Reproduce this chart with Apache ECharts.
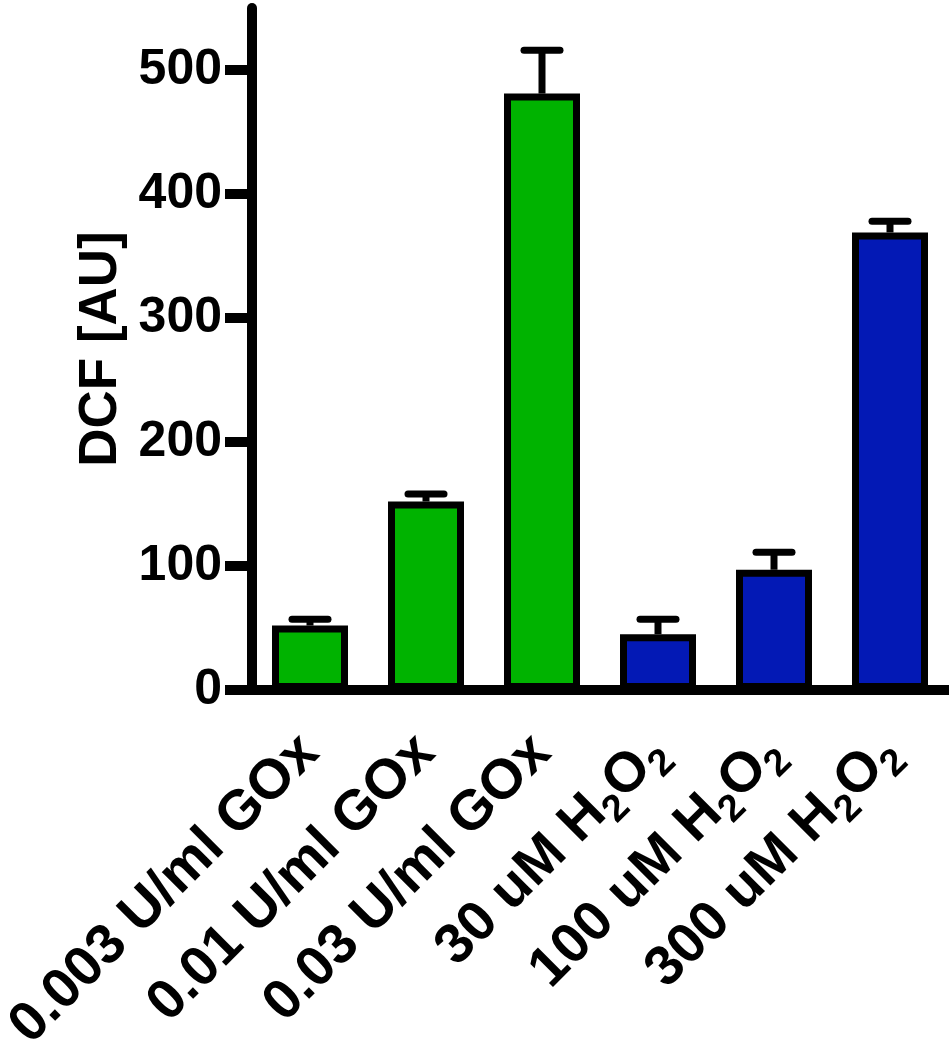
<!DOCTYPE html>
<html>
<head>
<meta charset="utf-8">
<script src="https://cdn.jsdelivr.net/npm/echarts@6/dist/echarts.min.js"></script>
<style>
html,body{margin:0;padding:0;background:#fff;}
#chart{width:949px;height:1050px;}
</style>
</head>
<body>
<div id="chart"></div>
<script>
// ---- data ----
const categories = ['0.003 U/ml GOx', '0.01 U/ml GOx', '0.03 U/ml GOx', '30 uM H2O2', '100 uM H2O2', '300 uM H2O2'];
const groups = ['GOx', 'GOx', 'GOx', 'H2O2', 'H2O2', 'H2O2'];
const means = [52, 152, 481, 45, 97, 369];
const errors = [5, 6, 35, 12, 14, 9];
const yTicks = [0, 100, 200, 300, 400, 500];
const yTitle = 'DCF [AU]';

// ---- style ----
const groupColors = { GOx: '#00B300', H2O2: '#0319B5' };
const FONT = '"Liberation Sans", Arial, Helvetica, sans-serif';

const chart = echarts.init(document.getElementById('chart'), null, { renderer: 'canvas' });

function fmtCat(v) {
  // turn "H2O2" into rich text with subscripts
  return v.replace(/H2O2/, 'H{sub|2}O{sub|2}');
}

const barData = means.map((m, i) => ({
  value: m,
  itemStyle: { color: groupColors[groups[i]] }
}));
const errData = means.map((m, i) => [i, m, m + errors[i]]);

const option = {
  animation: false,
  backgroundColor: '#fff',
  grid: { left: 252, right: 1, top: 8, bottom: 360, containLabel: false, outerBoundsMode: 'none' },
  xAxis: {
    type: 'category',
    data: categories,
    axisLine: { lineStyle: { color: '#000', width: 10 } },
    axisTick: { alignWithLabel: true, length: 27, lineStyle: { color: '#000', width: 10 } },
    axisLabel: {
      rotate: 45,
      margin: 54,
      color: '#000',
      fontFamily: FONT,
      fontWeight: 'bold',
      fontSize: 56,
      interval: 0,
      hideOverlap: false,
      formatter: fmtCat,
      rich: {
        sub: { fontFamily: FONT, fontWeight: 'bold', fontSize: 38, color: '#000', verticalAlign: 'bottom', lineHeight: 38 }
      },
      lineHeight: 72
    }
  },
  yAxis: {
    type: 'value',
    min: 0,
    max: 550,
    interval: 100,
    name: yTitle,
    nameLocation: 'middle',
    nameGap: 114,
    nameTextStyle: { color: '#000', fontFamily: FONT, fontWeight: 'bold', fontSize: 53 },
    axisLine: { show: true, lineStyle: { color: '#000', width: 10 } },
    axisTick: { show: true, length: 27, lineStyle: { color: '#000', width: 10 } },
    axisLabel: {
      margin: 30,
      color: '#000',
      fontFamily: FONT,
      fontWeight: 'bold',
      fontSize: 50,
      showMaxLabel: false,
      formatter: function (v) { return yTicks.indexOf(v) >= 0 ? String(v) : ''; }
    },
    splitLine: { show: false }
  },
  series: [
    {
      type: 'bar',
      data: barData,
      barWidth: 76,
      itemStyle: { borderColor: '#000', borderWidth: 7 },
      z: 2
    },
    {
      type: 'custom',
      data: errData,
      z: 1,
      renderItem: function (params, api) {
        const base = api.coord([api.value(0), api.value(1)]);
        const top = api.coord([api.value(0), api.value(2)]);
        const half = 18;
        return {
          type: 'group',
          children: [
            { type: 'line', shape: { x1: base[0], y1: base[1], x2: top[0], y2: top[1] },
              style: { stroke: '#000', lineWidth: 7 } },
            { type: 'line', shape: { x1: top[0] - half, y1: top[1], x2: top[0] + half, y2: top[1] },
              style: { stroke: '#000', lineWidth: 7, lineCap: 'round' } }
          ]
        };
      }
    }
  ]
};
chart.setOption(option);
</script>
</body>
</html>
